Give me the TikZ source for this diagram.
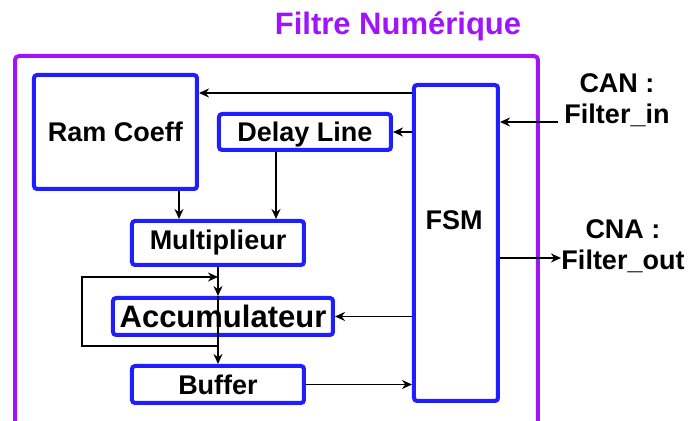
\documentclass[tikz,border=0pt]{standalone}
\usepackage{fontspec}
\setmainfont{Liberation Sans}
\usepackage{xcolor}
\usetikzlibrary{arrows.meta, positioning}
\definecolor{blockblue}{RGB}{30,30,255}
\definecolor{framepurple}{RGB}{160,20,250}

\begin{document}
\begin{tikzpicture}[x=0.5pt, y=-0.5pt, font=\bfseries\fontsize{13.5}{15.5}\selectfont,
    blk/.style={draw=blockblue, line width=2pt, rounded corners=1.5pt, inner sep=0pt, align=center},
    arr/.style={-{Stealth[length=5pt, width=4.5pt]}, line width=0.9pt}]
    \useasboundingbox (0,0) rectangle (693,421);
    \clip (0,0) rectangle (693,421);
    \draw[framepurple, line width=2pt, rounded corners=2pt] (15,56) rectangle (538,460);
    \node[text=framepurple, font=\bfseries\fontsize{15.5}{18}\selectfont] (title) at (398,26) {Filtre Numérique};
    \node[blk, minimum width=81.5pt, minimum height=57pt] (ram) at (115.5,132) {Ram Coeff};
    \node[blk, minimum width=86pt, minimum height=18pt, text depth=0pt] (delay) at (305,132) {Delay Line};
    \node[blk, minimum width=86pt, minimum height=22pt] (mult) at (218,243) {Multiplieur};
    \node[blk, minimum width=110pt, minimum height=18.5pt, font=\bfseries\fontsize{15.5}{18}\selectfont] (acc) at (223,316.5) {Accumulateur};
    \node[blk, minimum width=86pt, minimum height=18.5pt] (buf) at (218,384.5) {Buffer};
    \node[blk, minimum width=42pt, minimum height=158pt] (fsm) at (456,243) {};
    \node (fsmlbl) at (454,220) {FSM};
    \node[align=center] (can) at (617,100) {CAN :\\Filter\_in};
    \node[align=center] (cna) at (623,246) {CNA :\\Filter\_out};
    \coordinate (canin) at (558,122);
    \coordinate (cnaout) at (561,258);
    \coordinate (loopout) at (218,346);
    \coordinate (loopin) at (218,277);
    % control lines from the FSM
    \draw[arr] (fsm.west |- 0,93) -- (ram.east |- 0,93);
    \draw[arr] (fsm.west |- delay.east) -- (delay.east);
    \draw[arr] (fsm.west |- acc.east) -- (acc.east);
    \draw[arr] (buf.east) -- (fsm.west |- buf.east);
    % data path
    \draw[arr] (ram.south -| 179,0) -- (mult.north -| 179,0);
    \draw[arr] (delay.south -| 276,0) -- (mult.north -| 276,0);
    \draw[arr] (mult.south) -- (acc.north -| mult.south);
    \draw[arr] (acc.north -| buf.north) -- (buf.north);
    \draw[arr] (loopout) -- (82,346) -- (82,277) -- (loopin);
    % converters
    \draw[arr] (canin) -- (fsm.east |- canin);
    \draw[arr] (fsm.east |- cnaout) -- (cnaout);
  \end{tikzpicture}
\end{document}
